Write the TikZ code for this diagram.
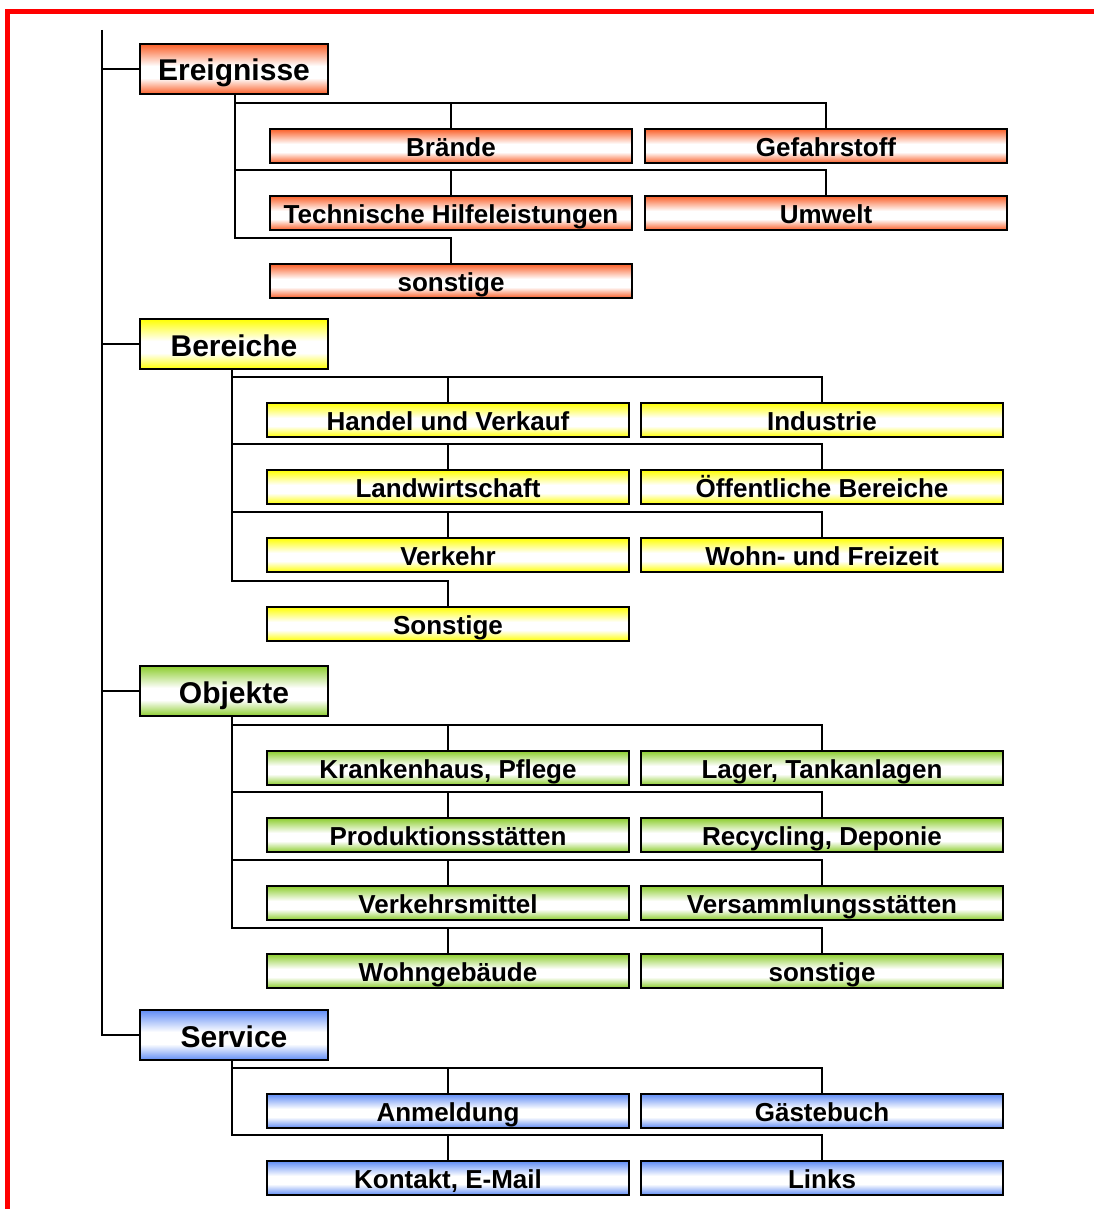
\documentclass[tikz,border=0pt]{standalone}
\usepackage{fontspec}
\setmainfont{Liberation Sans}

\definecolor{cRed}{RGB}{250,95,40}
\definecolor{cYellow}{RGB}{255,255,0}
\definecolor{cGreen}{RGB}{140,205,45}
\definecolor{cBlue}{RGB}{96,140,245}

% colour at top and bottom edge, short white band through the middle
\newcommand{\bandshading}[2]{%
  \pgfdeclareverticalshading{#1}{100bp}{color(0bp)=(#2); color(25bp)=(#2);
    color(41bp)=(white); color(53bp)=(white); color(75bp)=(#2); color(100bp)=(#2)}}
\bandshading{redband}{cRed}
\bandshading{yellowband}{cYellow}
\bandshading{greenband}{cGreen}
\bandshading{blueband}{cBlue}

\tikzset{
  wire/.style={black, line width=1.8pt},
  basebox/.style={draw=black, line width=2pt, inner sep=0pt, anchor=north west,
    align=center},
  mainbox/.style={basebox, minimum width=188pt, minimum height=50pt,
    font=\fontsize{30}{36}\selectfont\bfseries, text height=24pt, text depth=0pt},
  subbox/.style={basebox, minimum width=362pt, minimum height=34pt,
    font=\fontsize{26}{30}\selectfont\bfseries, text height=20.5pt, text depth=0pt},
  redfill/.style={shading=redband},
  yellowfill/.style={shading=yellowband},
  greenfill/.style={shading=greenband},
  bluefill/.style={shading=blueband},
}

\begin{document}
\begin{tikzpicture}[x=1pt, y=-1pt]
  \useasboundingbox (0,0) rectangle (1094,1209);
  \fill[white] (0,0) rectangle (1094,1209);

  % page frame
  \draw[red, line width=5pt] (7.5,1209) -- (7.5,11.5) -- (1094,11.5);

  % ---- Ereignisse ----
  \node[mainbox, redfill] (e) at (139,43) {Ereignisse};
  \node[subbox, redfill] (e1) at (269,128) {Brände};
  \node[subbox, redfill] (e2) at (644,128) {Gefahrstoff};
  \node[subbox, redfill] (e3) at (269,195) {Technische Hilfeleistungen};
  \node[subbox, redfill] (e4) at (644,195) {Umwelt};
  \node[subbox, redfill] (e5) at (269,263) {sonstige};

  % ---- Bereiche ----
  \node[mainbox, yellowfill] (b) at (139,318) {Bereiche};
  \node[subbox, yellowfill] (b1) at (266,402) {Handel und Verkauf};
  \node[subbox, yellowfill] (b2) at (640,402) {Industrie};
  \node[subbox, yellowfill] (b3) at (266,469) {Landwirtschaft};
  \node[subbox, yellowfill] (b4) at (640,469) {Öffentliche Bereiche};
  \node[subbox, yellowfill] (b5) at (266,537) {Verkehr};
  \node[subbox, yellowfill] (b6) at (640,537) {Wohn- und Freizeit};
  \node[subbox, yellowfill] (b7) at (266,606) {Sonstige};

  % ---- Objekte ----
  \node[mainbox, greenfill] (o) at (139,665) {Objekte};
  \node[subbox, greenfill] (o1) at (266,750) {Krankenhaus, Pflege};
  \node[subbox, greenfill] (o2) at (640,750) {Lager, Tankanlagen};
  \node[subbox, greenfill] (o3) at (266,817) {Produktionsstätten};
  \node[subbox, greenfill] (o4) at (640,817) {Recycling, Deponie};
  \node[subbox, greenfill] (o5) at (266,885) {Verkehrsmittel};
  \node[subbox, greenfill] (o6) at (640,885) {Versammlungsstätten};
  \node[subbox, greenfill] (o7) at (266,953) {Wohngebäude};
  \node[subbox, greenfill] (o8) at (640,953) {sonstige};

  % ---- Service ----
  \node[mainbox, bluefill] (s) at (139,1009) {Service};
  \node[subbox, bluefill] (s1) at (266,1093) {Anmeldung};
  \node[subbox, bluefill] (s2) at (640,1093) {Gästebuch};
  \node[subbox, bluefill] (s3) at (266,1160) {Kontakt, E-Mail};
  \node[subbox, bluefill] (s4) at (640,1160) {Links};

  % ---- trunk ----
  \coordinate (top) at (102,30);
  \draw[wire] (top) |- (s.west);
  \foreach \m in {e,b,o}
    \draw[wire] (top |- \m.west) -- (\m.west);

  % ---- branches: parent, left child, right child ----
  \foreach \p/\dx/\l/\r in {e/1/e1/e2, e/1/e3/e4,
                            b/-2/b1/b2, b/-2/b3/b4, b/-2/b5/b6,
                            o/-2/o1/o2, o/-2/o3/o4, o/-2/o5/o6, o/-2/o7/o8,
                            s/-2/s1/s2, s/-2/s3/s4} {
    \draw[wire] ([xshift=\dx pt]\p.south) |- ([yshift=25pt]\r.north) -- (\r.north);
    \draw[wire] ([yshift=25pt]\l.north) -- (\l.north);
  }
  \draw[wire] ([xshift=1pt]e.south) |- ([yshift=25pt]e5.north) -- (e5.north);
  \draw[wire] ([xshift=-2pt]b.south) |- ([yshift=25pt]b7.north) -- (b7.north);
\end{tikzpicture}
\end{document}
